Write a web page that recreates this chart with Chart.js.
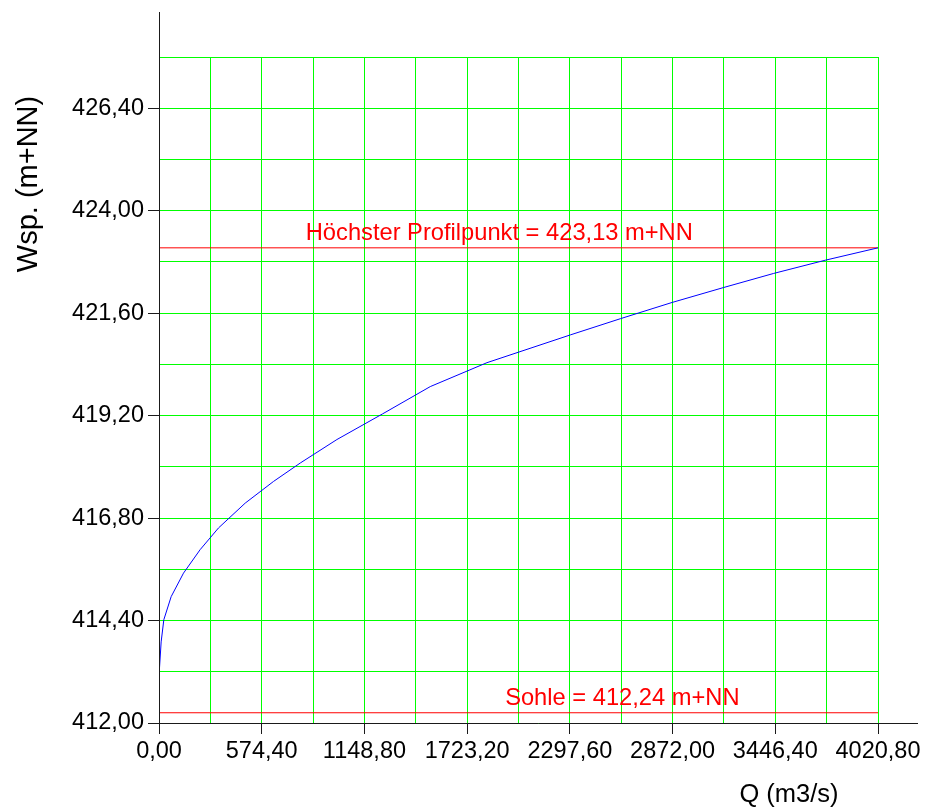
<!DOCTYPE html>
<html>
<head>
<meta charset="utf-8">
<script src="https://cdn.jsdelivr.net/npm/chart.js@4.4.1/dist/chart.umd.min.js"></script>
<style>
  html, body { margin: 0; padding: 0; background: #fff; }
</style>
</head>
<body>
<canvas id="wsp" width="935" height="811"></canvas>
<script>
// Abfluss Q (m3/s) und Wasserspiegel (m+NN)
const qValues   = [0, 1, 12, 27, 68, 137, 230, 333, 482, 641, 790, 995, 1250, 1517, 1834, 2300, 2580, 2869, 3157, 3437, 3726, 4020.8];
const wspValues = [412.24, 413.17, 413.9, 414.42, 414.96, 415.51, 416.06, 416.57, 417.15, 417.66, 418.09, 418.64, 419.24, 419.88, 420.44, 421.09, 421.47, 421.85, 422.20, 422.53, 422.84, 423.13];

// Bezugshoehen
const refLevels = [412.24, 423.13];
const refLabels = ['Sohle = 412,24 m+NN', 'Höchster Profilpunkt = 423,13 m+NN'];
const refLabelQ = [2591, 1903];

// Gitter (nur jede zweite Linie beschriftet)
const xGrid = [0, 287.2, 574.4, 861.6, 1148.8, 1436, 1723.2, 2010.4, 2297.6, 2584.8, 2872, 3159.2, 3446.4, 3733.6, 4020.8];
const yGrid = [412, 413.2, 414.4, 415.6, 416.8, 418, 419.2, 420.4, 421.6, 422.8, 424, 425.2, 426.4, 427.6];

const FONT = "'Liberation Sans', Arial, sans-serif";
const fmt = v => v.toFixed(2).replace('.', ',');

// axes, reference labels and titles
const decor = {
    id: 'decor',
    afterDraw(chart) {
        const { ctx, chartArea: { left, right, top, bottom }, scales: { x, y } } = chart;
        ctx.save();
        ctx.strokeStyle = '#1a1a1a';
        ctx.lineWidth = 1;
        ctx.beginPath();
        ctx.moveTo(left, Math.round(bottom) + 0.5);
        ctx.lineTo(right + 40, Math.round(bottom) + 0.5);
        ctx.moveTo(Math.round(left) + 0.5, bottom + 1);
        ctx.lineTo(Math.round(left) + 0.5, top - 45);
        ctx.stroke();

        ctx.font = '23.7px ' + FONT;
        ctx.fillStyle = '#ff0000';
        ctx.textAlign = 'center';
        ctx.textBaseline = 'alphabetic';
        refLevels.forEach((lvl, i) => {
            ctx.fillText(refLabels[i], x.getPixelForValue(refLabelQ[i]), y.getPixelForValue(lvl) - 8);
        });

        ctx.fillStyle = '#000';
        ctx.font = '25.5px ' + FONT;
        ctx.fillText('Q (m3/s)', right - 89, bottom + 79);

        ctx.translate(left - 130, top + 127);
        ctx.rotate(-Math.PI / 2);
        ctx.font = '29px ' + FONT;
        ctx.textBaseline = 'middle';
        ctx.fillText('Wsp. (m+NN)', 0, 0);
        ctx.restore();
    }
};

const datasets = [{
    data: qValues.map((q, i) => ({ x: q, y: wspValues[i] })),
    borderColor: '#0000ff',
    borderWidth: 1,
    pointRadius: 0,
    showLine: true
}];
refLevels.forEach(lvl => {
    datasets.push({
        data: [{ x: xGrid[0], y: lvl }, { x: xGrid[xGrid.length - 1], y: lvl }],
        borderColor: '#ff0000',
        borderWidth: 1,
        pointRadius: 0,
        showLine: true
    });
});

const gridOpts = {
    color: '#00ff00',
    lineWidth: 1,
    tickLength: 11,
    tickColor: ctx => ctx.index % 2 ? 'rgba(0,0,0,0)' : '#1a1a1a'
};

new Chart(document.getElementById('wsp'), {
    type: 'scatter',
    data: { datasets },
    options: {
        responsive: false,
        animation: false,
        layout: { padding: { left: 0, top: 57, right: 57, bottom: 0 } },
        plugins: { legend: { display: false }, tooltip: { enabled: false } },
        scales: {
            x: {
                type: 'linear',
                min: xGrid[0],
                max: xGrid[xGrid.length - 1],
                afterBuildTicks: s => { s.ticks = xGrid.map(v => ({ value: v })); },
                afterFit: s => { s.height = 88; },
                grid: gridOpts,
                border: { display: false },
                ticks: {
                    autoSkip: false,
                    maxRotation: 0,
                    padding: 3,
                    color: '#000',
                    font: { family: FONT, size: 23.5 },
                    callback: (v, i) => i % 2 ? '' : fmt(v)
                }
            },
            y: {
                type: 'linear',
                min: yGrid[0],
                max: yGrid[yGrid.length - 1],
                afterBuildTicks: s => { s.ticks = yGrid.map(v => ({ value: v })); },
                afterFit: s => { s.width = 159; },
                grid: gridOpts,
                border: { display: false },
                ticks: {
                    autoSkip: false,
                    padding: 4,
                    color: '#000',
                    font: { family: FONT, size: 23.5 },
                    callback: (v, i) => i % 2 ? '' : fmt(v)
                }
            }
        }
    },
    plugins: [decor]
});
</script>
</body>
</html>
